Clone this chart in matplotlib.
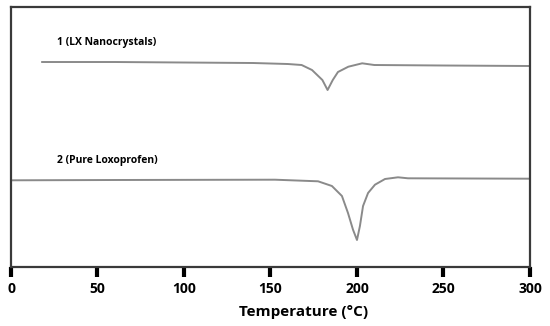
import matplotlib.pyplot as plt

# DSC thermograms (temperature in C, arbitrary heat flow units)
temp_nano = [18, 60, 100, 140, 160, 168, 174, 180, 183, 186, 189, 195, 203, 210, 250, 300]
flow_nano = [205, 205, 204.5, 204, 203, 202, 197, 187, 177, 187, 195, 200.3, 203.7, 202, 201.5, 201]

temp_pure = [1, 60, 120, 152.6, 177.5, 185.5, 191.3, 194.8, 197.7, 200, 201.7, 203.5, 206.4, 210.4, 216.2, 223.7, 229.5, 300]
flow_pure = [86.7, 87, 87.2, 87.3, 85.7, 81, 71, 54, 37.3, 27, 41, 61, 74, 82.3, 88, 89.7, 88.7, 88.3]

labels = ["1 (LX Nanocrystals)", "2 (Pure Loxoprofen)"]
xticks = [0, 50, 100, 150, 200, 250, 300]

plt.rcParams['font.family'] = ['Open Sans', 'DejaVu Sans']

fig = plt.figure(figsize=(5.5, 3.26), dpi=100)
ax = fig.add_axes([0.02, 0.181, 0.9436, 0.7975])

ax.plot(temp_nano, flow_nano, color='#8a8a8a', lw=1.4)
ax.plot(temp_pure, flow_pure, color='#8a8a8a', lw=1.4)

ax.text(26.6, 225, labels[0], fontsize=7.5, fontweight='bold', va='center')
ax.text(26.6, 107, labels[1], fontsize=7.5, fontweight='bold', va='center')

ax.set_xlim(0, 300)
ax.set_ylim(0, 260)
ax.set_xticks(xticks)
ax.set_xticklabels([str(t) for t in xticks], fontsize=10, fontweight='bold')
ax.set_yticks([])
ax.tick_params(axis='x', direction='out', length=7, width=3, color='black', pad=4)
for s in ax.spines.values():
    s.set_color('#3a3a3a')
    s.set_linewidth(1.6)
ax.set_xlabel("Temperature (\u00b0C)", fontsize=11, fontweight='bold', va='center')
ax.xaxis.set_label_coords(0.563, -0.173)

fig.savefig("out.png", dpi=100)
